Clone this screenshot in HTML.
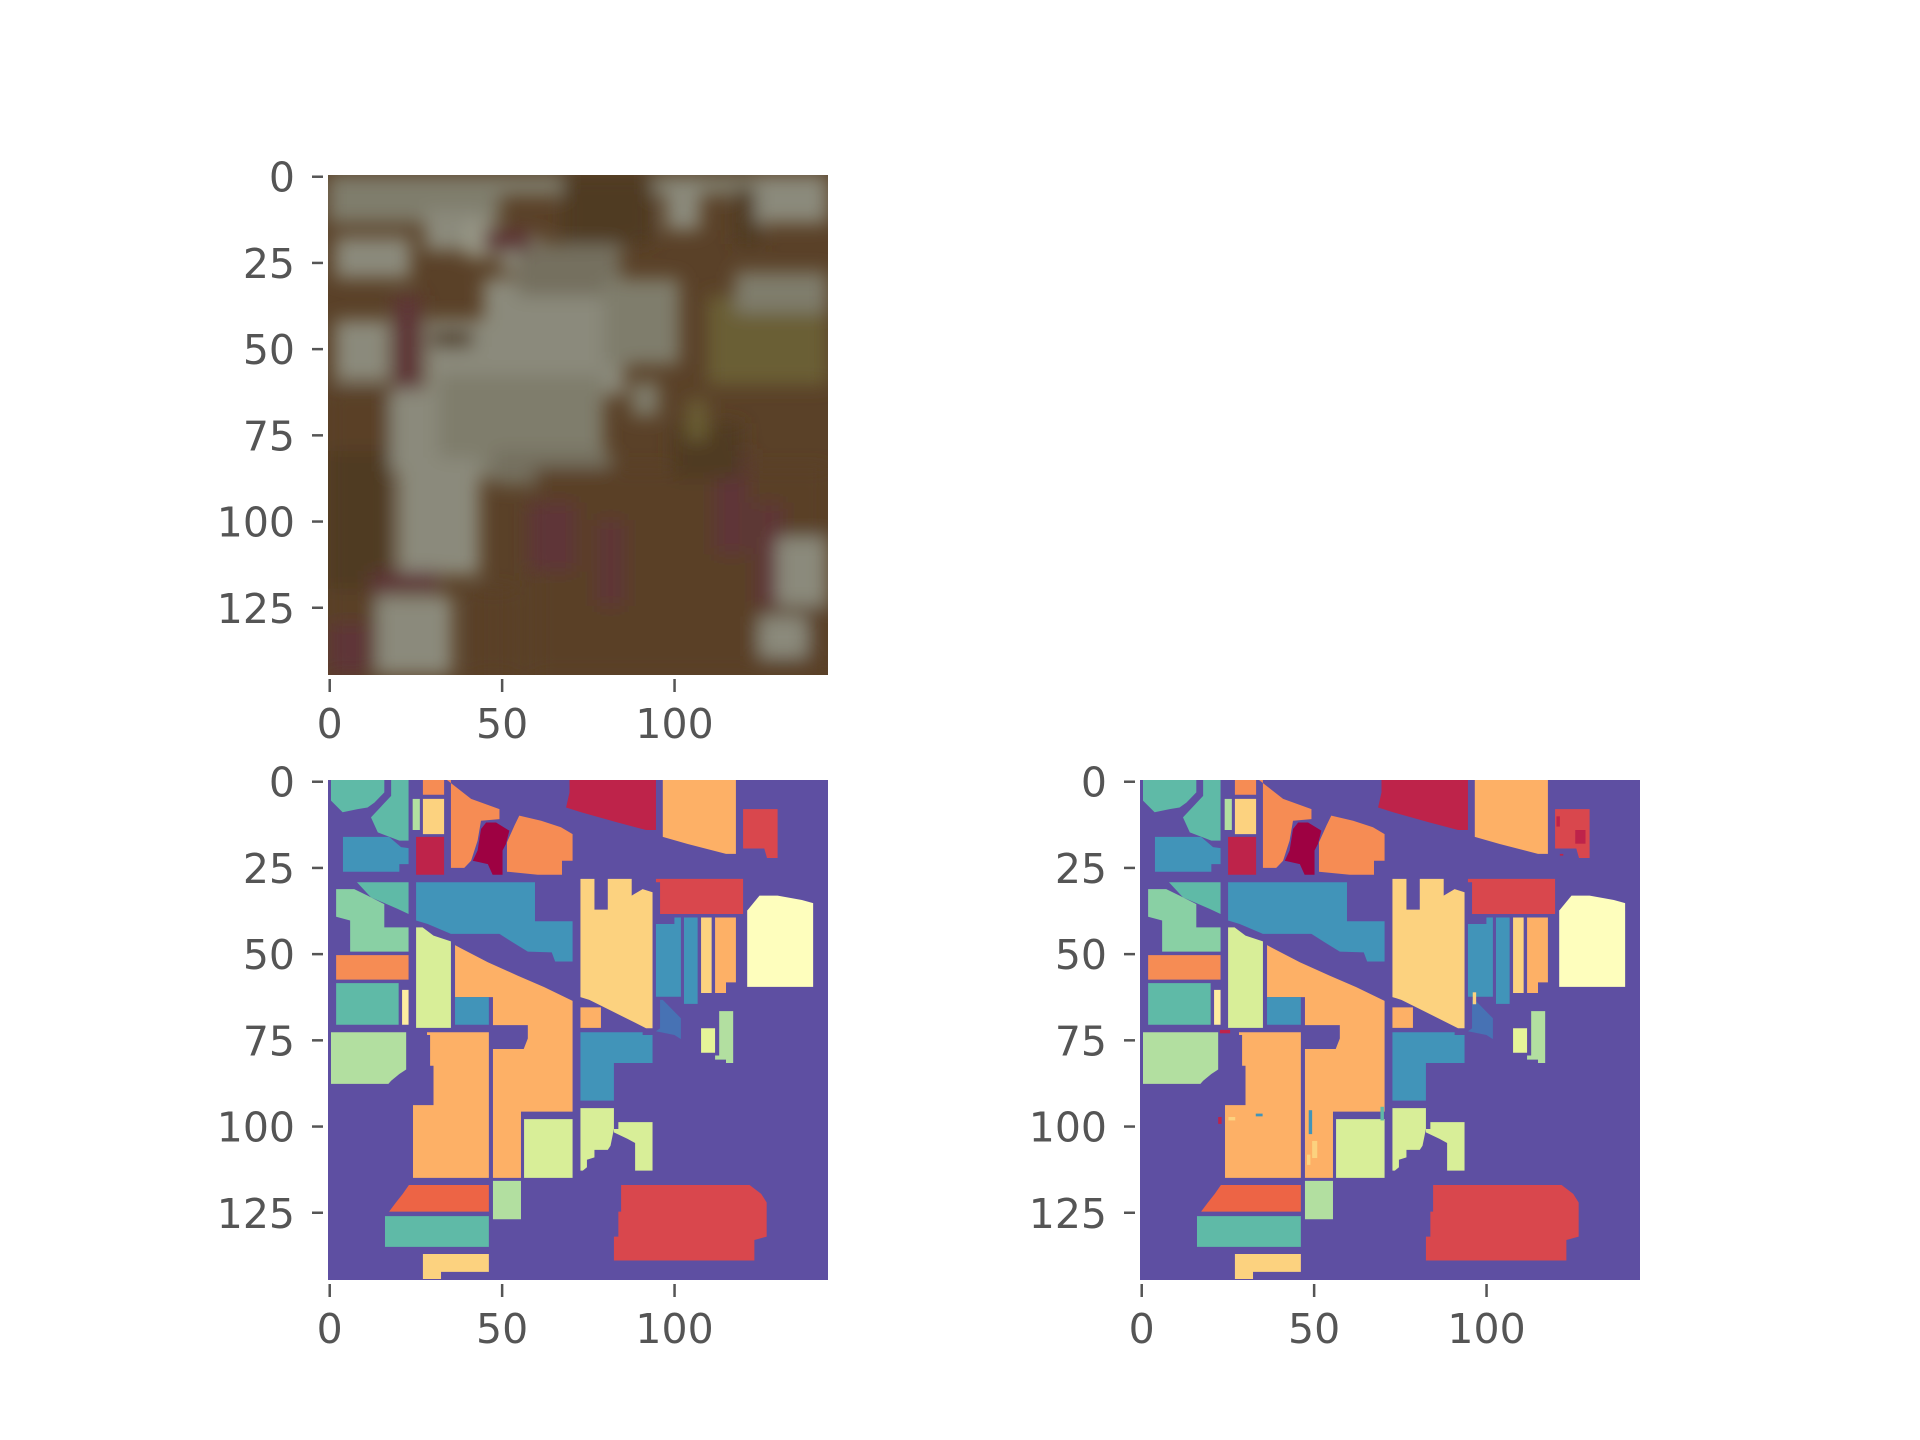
<!DOCTYPE html>
<html><head><meta charset="utf-8">
<style>
html,body{margin:0;padding:0;background:#fff;}
svg{display:block;}
text{font-family:"DejaVu Sans","Liberation Sans",sans-serif;fill:#555;font-size:41px;}
</style></head>
<body>
<svg id="fig" width="1920" height="1440" viewBox="0 0 1920 1440" xmlns="http://www.w3.org/2000/svg">
<defs>
<filter id="blur" x="-5%" y="-5%" width="110%" height="110%"><feGaussianBlur stdDeviation="9"/></filter>
<clipPath id="clipTop"><rect x="328" y="175" width="500" height="500"/></clipPath>
<clipPath id="clipL"><rect x="328" y="780" width="500" height="500"/></clipPath>
<clipPath id="clipR"><rect x="1140" y="780" width="500" height="500"/></clipPath>
</defs>
</svg>
<script>
// ---- data ----
const tickValuesX = [0, 50, 100];
const tickValuesY = [0, 25, 50, 75, 100, 125];
const classColors = ["#5e4fa2","#5fbaa7","#b2dfa0","#d8ee98","#fcd27f","#fdb066","#f68c54","#ed6445","#d9474d","#be234a","#9e0142","#4194b9","#4772b4","#89d0a4","#fefebd","#fdeca0","#e6f598"];
// region class ids
const regionClass = [1,1,2,4,6,6,11,9,10,6,9,5,8,1,13,11,4,8,14,11,11,4,5,6,1,15,3,5,11,5,11,12,16,2,2,5,3,3,3,7,2,1,4,8];
// region vertices [col,row] in data units
const regionPts = [
[[0,0],[15.6,0],[15.6,1],[12.7,4],[10.7,5.4],[7.8,5.9],[3.4,6.8],[0,3.4]],
[[17.6,0],[22.7,0],[22.7,15.1],[20,15.1],[13.7,12.7],[11.7,8.3],[17.6,2]],
[[23.9,2.9],[26,2.9],[26,12],[23.9,12]],
[[26.9,2.9],[33.1,2.9],[33.1,13.2],[26.9,13.2]],
[[26.9,0],[33.1,0],[33.1,1.7],[26.9,1.7]],
[[33.2,0],[41,2.9],[49.3,5.9],[49.3,8.8],[43.9,9.3],[42.9,15.1],[41,21],[39,23.1],[35.1,23.1],[35.1,0]],
[[3.5,14],[17,14],[20.5,17],[22.7,17.3],[22.7,22],[20,22],[20,24.2],[3.5,24.2]],
[[24.9,14],[33.1,14],[33.1,25.1],[24.9,25.1]],
[[45.4,9.8],[48.3,9.8],[52.2,12.2],[51.2,16.1],[50.2,18],[50.2,25.1],[47.3,25.1],[45.9,22],[41.5,21],[42.9,18],[43.9,11.7]],
[[55.1,7.8],[61.5,9.3],[67.3,11.2],[70.7,13.2],[70.7,21],[67.6,21],[67.6,25.1],[60.5,25.1],[51.5,24.2],[51.5,15.6],[53.7,10.7]],
[[69.8,0],[95.1,0],[95.1,12],[92.2,12],[83.9,9.8],[73.2,6.8],[68.8,5.4],[69.8,1]],
[[97.1,0],[118.5,0],[118.5,19],[115.6,19],[104.4,16.1],[97.1,14]],
[[120.6,5.9],[130.7,5.9],[130.7,20.2],[127.6,20.2],[126.8,17.4],[120.6,17.4]],
[[7.6,27.3],[22.7,27.3],[22.7,36.6],[19.5,35.1],[11.7,31.7]],
[[1.5,29.3],[6.8,29.3],[10.7,31.2],[15.6,33.7],[15.6,40.5],[22.7,40.5],[22.7,47.6],[5.6,47.6],[5.6,38.5],[1.5,37.4]],
[[24.9,27.3],[59.7,27.3],[59.7,38.7],[70.7,38.7],[70.7,50.5],[65.6,50.5],[64.6,47.8],[57.6,47.6],[53.2,44.9],[49.3,42.4],[35.1,42.4],[28.3,39.5],[24.9,38.5]],
[[73,26.3],[77.1,26.3],[77.1,35.3],[81,35.3],[81,26.3],[88,26.3],[88,31.2],[91.2,29.3],[94.1,30.2],[94.1,70],[92.2,70],[82,64.9],[75.6,61.7],[73,60.9]],
[[95.1,26.3],[120.6,26.3],[120.6,36.6],[96.3,36.6],[96.3,27.3],[95.1,27.3]],
[[121.8,35.6],[125.4,31.2],[130.7,31.2],[137.8,32.5],[141.1,33.4],[141.1,57.9],[121.8,57.9]],
[[95.1,39.5],[100.5,39.5],[100.5,37.6],[102.4,37.6],[102.4,60.8],[95.1,60.8]],
[[103.3,37.6],[107.3,37.6],[107.3,62.9],[103.3,62.9]],
[[108.3,37.6],[111.4,37.6],[111.4,59.7],[108.3,59.7]],
[[112.4,37.6],[118.5,37.6],[118.5,56.6],[115.6,56.6],[115.6,59.7],[112.4,59.7]],
[[1.5,48.6],[22.7,48.6],[22.7,55.8],[1.5,55.8]],
[[1.5,56.8],[19.8,56.8],[19.8,69],[1.5,69]],
[[20.8,58.8],[22.7,58.8],[22.7,69],[20.8,69]],
[[24.9,40.5],[26.8,40.5],[30,42.9],[35.1,44.6],[35.1,69.9],[24.9,69.9]],
[[36.3,45.7],[38,46.6],[45.9,50.7],[54.6,54.6],[62.4,58],[70.7,62],[70.7,94.4],[55.6,94.4],[55.6,113.8],[47.4,113.8],[47.4,76.1],[56.4,76.1],[57.6,73],[57.6,69.1],[47.4,69.1],[47.4,60.9],[36.3,60.9]],
[[36.3,60.9],[46.2,60.9],[46.2,69],[36.3,69]],
[[73,63.9],[79,63.9],[79,69.9],[73,69.9]],
[[73,71.2],[91.2,71.2],[91.2,72],[94.1,72],[94.1,80.2],[82.8,80.2],[82.8,91.2],[73,91.2]],
[[96.3,61.7],[97.1,61.7],[102.4,67.1],[102.4,73.2],[100.5,72],[95.1,70.9],[96.3,70]],
[[108.3,70],[112.4,70],[112.4,77.2],[108.3,77.2]],
[[113.6,65],[117.7,65],[117.7,80.2],[115.6,80.2],[115.6,79.2],[112.4,79.2],[112.4,78],[113.6,78]],
[[0,71.2],[22,71.2],[22,82.1],[20,83.4],[17.6,85.4],[16.8,86.3],[0,86.3]],
[[28.1,71.2],[46.2,71.2],[46.2,113.8],[24,113.8],[24,92.5],[30,92.5],[30,81],[29,81],[29,72],[28.1,72]],
[[56.5,96.6],[70.7,96.6],[70.7,113.8],[56.5,113.8]],
[[73,93.4],[82.8,93.4],[82.8,99.5],[81.8,104.4],[81,105.6],[77.1,105.6],[77.1,107.8],[74.9,108.5],[74.9,110.7],[73.7,111.7],[73,111.7]],
[[84.1,97.5],[94.1,97.5],[94.1,111.7],[89,111.7],[89,103.6],[86.8,102.4],[82.8,100.5],[82.8,99.5],[84.1,99.5]],
[[22.8,115.9],[46.2,115.9],[46.2,123.7],[17,123.7],[19,121],[21,118.5]],
[[47.4,114.7],[55.6,114.7],[55.6,125.9],[47.4,125.9]],
[[15.8,125],[46.2,125],[46.2,134],[15.8,134]],
[[26.9,136.1],[46.2,136.1],[46.2,141.3],[32.2,141.3],[32.2,143.4],[26.9,143.4]],
[[84.9,115.9],[122.5,115.9],[125.9,118.5],[127.5,121],[127.5,131],[123.9,132],[123.9,138],[82.8,138],[82.8,131],[84.1,131],[84.1,123.7],[84.9,123.7]]
];
// misclassified patches in prediction map: [col,row,w,h,class]
const noisePatches = [[48.5,94,1,7,11],[49.5,103,1.5,5,4],[48,107,1,3,4],[25,96,2,1,4],[22,96,1,2,9],[33,95,2,0.8,11],[126.5,12,3,4,9],[121,8,1,3,9],[22.5,70.5,3,1,9],[69.5,93,1,4,1],[96.5,59.5,1,3.5,4],[122,19,1,0.5,9],[36.5,61,1,1,11]];
// top RGB image: blurred patches [col,row,w,h,colorIdx]
const photoColors = ["#5a4128","#8b8a7c","#7f7d6c","#5f3538","#6b5e35","#9a9a88","#4f3a24","#74705e"];
const photoPatches = [
[0,0,50,14,2],[0,0,145,6,2],[68,0,26,20,6],[98,2,10,14,1],[118,4,8,16,6],[124,0,21,14,1],
[2,18,22,12,1],[28,10,18,12,1],[40,14,8,10,5],[50,18,12,10,1],
[2,42,16,18,1],[28,42,58,22,1],[45,30,40,25,1],[55,20,30,15,7],[80,30,22,25,2],
[19,35,8,28,3],[45,16,14,6,3],[30,45,12,5,6],
[18,62,34,24,1],[32,58,48,30,2],[20,82,24,34,1],[48,80,34,10,7],
[0,62,18,83,0],[0,80,18,40,6],[110,35,35,26,4],[118,28,27,12,2],
[60,85,85,60,0],[58,95,14,20,3],[78,100,8,25,3],[112,80,10,30,3],[124,95,8,30,3],[100,72,20,16,6],
[12,115,20,6,3],[14,122,22,23,1],[42,120,12,25,0],[130,105,15,20,1],[125,128,14,12,1],[0,130,12,15,3],
[88,60,8,10,2],[104,65,6,12,4]
];

// ---- axes ----
const UNIT = 3.417;
const SCALE = 500/145;
const svg = document.getElementById('fig');
const NS = 'http://www.w3.org/2000/svg';
function mk(tag, attrs, parent){const e=document.createElementNS(NS,tag);for(const k in attrs)e.setAttribute(k,attrs[k]);(parent||svg).appendChild(e);return e;}
function xData(L,u){return L+3+u*UNIT;}
function yData(T,u){return u<=0? T-2 : T+9+u*UNIT;}
function xTick(L,t){return L+(t+0.5)*SCALE;}
function yTick(T,t){return T+(t+0.5)*SCALE;}

function drawAxes(L,T,name){
  const g=mk('g',{});
  
  
  tickValuesY.forEach(t=>{
    const y=yTick(T,t);
    const ln=mk('line',{x1:L-16,x2:L-5,y1:y,y2:y,stroke:'#555','stroke-width':2.5},g);
    
    
    const tx=mk('text',{x:L-33,y:y+15,'text-anchor':'end'},g);
    tx.textContent=t;
    
    
  });
  tickValuesX.forEach(t=>{
    const x=xTick(L,t);
    const ln=mk('line',{x1:x,x2:x,y1:T+504,y2:T+517,stroke:'#555','stroke-width':2.5},g);
    
    
    const tx=mk('text',{x:x,y:T+563,'text-anchor':'middle'},g);
    tx.textContent=t;
    
    
  });
}

function drawMap(L,T,clip,name,noise){
  const g=mk('g',{'clip-path':'url(#'+clip+')'});
  
  
  const bg=mk('rect',{x:L,y:T,width:500,height:500,fill:classColors[0]},g);
  
  
  regionPts.forEach((pts,i)=>{
    const p=mk('polygon',{points:pts.map(v=>xData(L,v[0])+','+yData(T,v[1])).join(' '),fill:classColors[regionClass[i]]},g);
    
    
  });
  if(noise){
    noisePatches.forEach(n=>{
      const r=mk('rect',{x:xData(L,n[0]),y:yData(T,n[1]),width:n[2]*UNIT,height:n[3]*UNIT,fill:classColors[n[4]]},g);
      
      
    });
  }
  drawAxes(L,T,name);
}

// top photo
(function(){
  const L=328,T=175;
  const g=mk('g',{'clip-path':'url(#clipTop)'});
  
  
  const bg=mk('rect',{x:L,y:T,width:500,height:500,fill:'#5a4128'},g);
  
  
  const bl=mk('g',{filter:'url(#blur)'},g);
  photoPatches.forEach(p=>{
    const r=mk('rect',{x:L+p[0]*SCALE,y:T+p[1]*SCALE,width:p[2]*SCALE,height:p[3]*SCALE,fill:photoColors[p[4]]},bl);
    
    
  });
  drawAxes(L,T,'rgb-image');
})();
drawMap(328,780,'clipL','ground-truth-map',false);
drawMap(1140,780,'clipR','predicted-map',true);
</script>
</body></html>
